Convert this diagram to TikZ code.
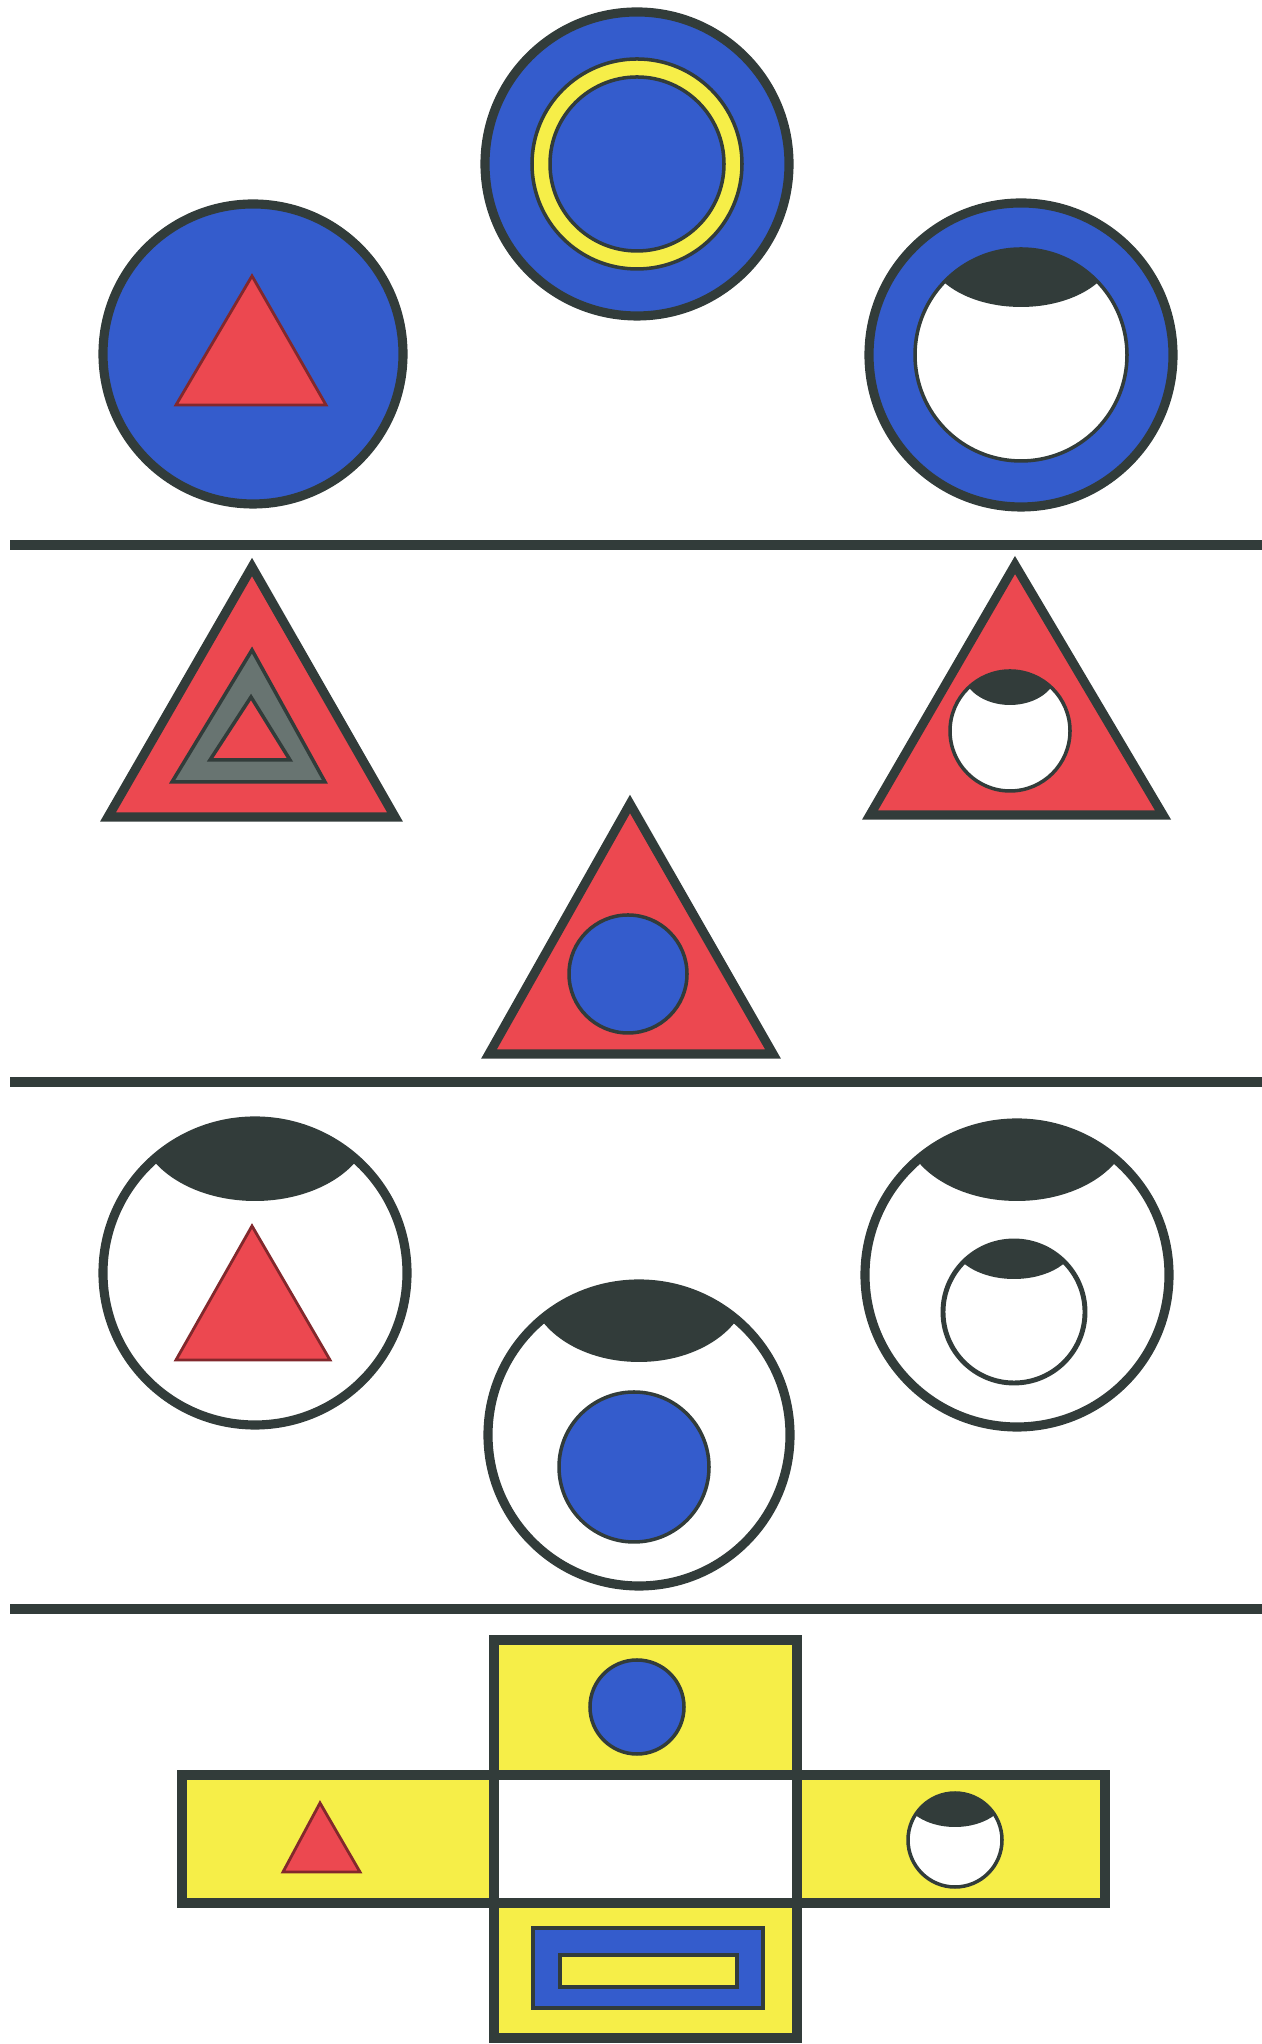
\documentclass[tikz,border=0pt]{standalone}
\definecolor{ink}{RGB}{50,60,58}
\definecolor{capblue}{RGB}{52,92,204}
\definecolor{capred}{RGB}{236,72,80}
\definecolor{capyellow}{RGB}{246,238,72}
\definecolor{ringgray}{RGB}{104,116,113}

% dark lid inside a circle: centre x, centre y, radius, half width, depth
\newcommand{\lid}[5]{%
  \begin{scope}
    \clip (#1,#2) circle (#3);
    \fill[ink] (#1,#2+#3) ellipse (#4 and #5);
  \end{scope}}

\begin{document}
\begin{tikzpicture}[
    rim/.style={draw=ink, line width=2.6pt},
    hairline/.style={draw=ink, line width=1pt},
    redline/.style={draw=capred!55!black, line width=0.8pt, fill=capred},
    divider/.style={ink, line width=3pt},
    cell/.style={draw=ink, line width=3pt}]
    \useasboundingbox (0,0) rectangle (12.62,20.44);

    % row 1: blue discs
    \draw[rim, fill=capblue] (2.53,16.90) circle (1.50);
    \draw[redline] (2.52,17.68) -- (1.76,16.39) -- (3.26,16.39) -- cycle;

    \draw[rim, fill=capblue] (6.37,18.80) circle (1.52);
    \draw[hairline, fill=capyellow, even odd rule] (6.37,18.80) circle (1.05) (6.37,18.80) circle (0.87);

    \draw[rim, fill=capblue] (10.21,16.89) circle (1.52);
    \fill[white] (10.21,16.89) circle (1.06);
    \lid{10.21}{16.89}{1.06}{0.94}{0.58}
    \draw[hairline] (10.21,16.89) circle (1.06);

    \draw[divider] (0.10,14.99) -- (12.62,14.99);

    % row 2: red triangles
    \draw[rim, fill=capred] (2.52,14.77) -- (1.08,12.27) -- (3.95,12.27) -- cycle;
    \draw[hairline, fill=ringgray, even odd rule]
        (2.52,13.94) -- (1.72,12.62) -- (3.25,12.62) -- cycle
        (2.51,13.47) -- (2.10,12.84) -- (2.90,12.84) -- cycle;

    \draw[rim, fill=capred] (10.15,14.79) -- (8.70,12.29) -- (11.63,12.29) -- cycle;
    \fill[white] (10.10,13.13) circle (0.60);
    \lid{10.10}{13.13}{0.60}{0.47}{0.34}
    \draw[hairline] (10.10,13.13) circle (0.60);

    \draw[rim, fill=capred] (6.30,12.40) -- (4.89,9.90) -- (7.73,9.90) -- cycle;
    \draw[hairline, fill=capblue] (6.28,10.70) circle (0.59);

    \draw[divider] (0.10,9.62) -- (12.62,9.62);

    % row 3: white discs with lids
    \draw[rim, fill=white] (2.55,7.71) circle (1.52);
    \lid{2.55}{7.71}{1.52}{1.17}{0.80}
    \draw[redline] (2.52,8.18) -- (1.76,6.84) -- (3.30,6.84) -- cycle;

    \draw[rim, fill=white] (6.39,6.09) circle (1.51);
    \lid{6.39}{6.09}{1.51}{1.10}{0.78}
    \draw[hairline, fill=capblue] (6.34,5.77) circle (0.75);

    \draw[rim, fill=white] (10.17,7.69) circle (1.52);
    \lid{10.17}{7.69}{1.52}{1.14}{0.78}
    \lid{10.14}{7.32}{0.71}{0.62}{0.38}
    \draw[draw=ink, line width=1.4pt] (10.14,7.32) circle (0.71);

    \draw[divider] (0.10,4.35) -- (12.62,4.35);

    % row 4: yellow cross
    \draw[cell, fill=capyellow] (4.94,2.69) rectangle (7.97,4.04);
    \draw[cell, fill=capyellow] (1.82,1.41) rectangle (4.94,2.69);
    \draw[cell, fill=white] (4.94,1.41) rectangle (7.97,2.69);
    \draw[cell, fill=capyellow] (7.97,1.41) rectangle (11.05,2.69);
    \draw[cell, fill=capyellow] (4.94,0.06) rectangle (7.97,1.41);

    \draw[hairline, fill=capblue] (6.37,3.37) circle (0.47);
    \draw[redline] (3.20,2.41) -- (2.83,1.72) -- (3.60,1.72) -- cycle;
    \fill[white] (9.55,2.04) circle (0.47);
    \lid{9.55}{2.04}{0.47}{0.52}{0.34}
    \draw[hairline] (9.55,2.04) circle (0.47);
    \draw[hairline, fill=capblue] (5.33,0.36) rectangle (7.63,1.16);
    \draw[hairline, fill=capyellow] (5.60,0.57) rectangle (7.37,0.89);
\end{tikzpicture}
\end{document}
